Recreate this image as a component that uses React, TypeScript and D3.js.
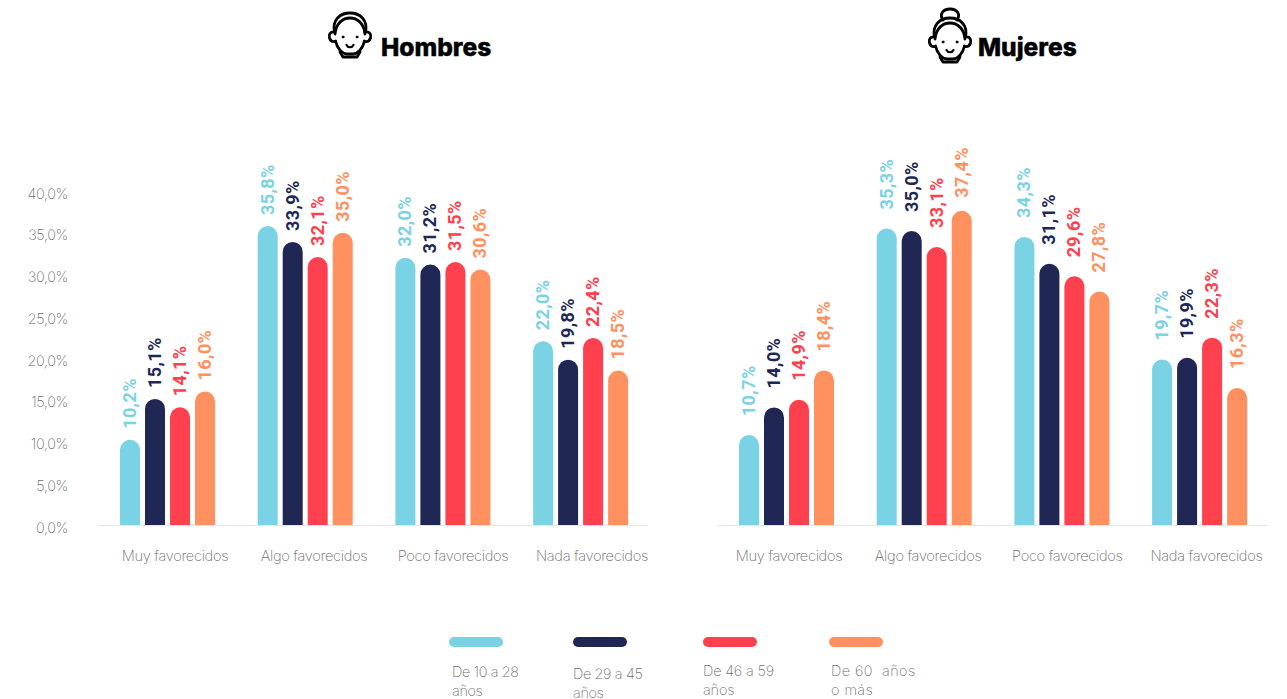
import React from "react";
import * as d3 from "d3";

const categories = ["Muy favorecidos", "Algo favorecidos", "Poco favorecidos", "Nada favorecidos"];
const seriesNames = ["De 10 a 28 años", "De 29 a 45 años", "De 46 a 59 años", "De 60 años o más"];
const colors = ["#7AD2E5", "#202754", "#FF404E", "#FF9160"];
const hombres = [
  [10.2, 15.1, 14.1, 16.0],
  [35.8, 33.9, 32.1, 35.0],
  [32.0, 31.2, 31.5, 30.6],
  [22.0, 19.8, 22.4, 18.5],
];
const mujeres = [
  [10.7, 14.0, 14.9, 18.4],
  [35.3, 35.0, 33.1, 37.4],
  [34.3, 31.1, 29.6, 27.8],
  [19.7, 19.9, 22.3, 16.3],
];
const yTicks = [0, 5, 10, 15, 20, 25, 30, 35, 40];
const legendLines = [["De 10 a 28", "años"], ["De 29 a 45", "años"], ["De 46 a 59", "años"], ["De 60  años", "o más"]];
const legendX = [449, 573, 703, 829];
const legendTextX = [452, 573, 703, 831];
const legendTextY = [676, 678, 675, 675];
const legendSpacing = [-0.35, -0.35, -0.15, 0.45];

const LIGHT = "Inter, Lato, sans-serif";
const GREY = "#6E6E6E";
const axisY = d3.scaleLinear().domain([0, 40]).range([525, 191]);
const fmt = (v: number) => v.toFixed(1).replace(".", ",") + "%";

function topRounded(x: number, w: number, top: number, base: number) {
  const r = w / 2;
  const p = d3.path();
  p.moveTo(x, base);
  p.lineTo(x, top + r);
  p.arc(x + r, top + r, r, Math.PI, 0);
  p.lineTo(x + w, base);
  p.closePath();
  return p.toString();
}

function Panel({ data, x0, x1, topY, labelX0, labelX1, gap }: { data: number[][]; x0: number; x1: number; topY: number; labelX0: number; labelX1: number; gap: (v: number) => number }) {
  const y = d3.scaleLinear().domain([0, 40]).range([525, topY]);
  const outer = d3.scaleBand().domain(categories).range([x0, x1]).paddingInner(0.31).paddingOuter(0.155);
  const inner = d3.scaleBand().domain(seriesNames).range([0, outer.bandwidth()]).paddingInner(0.2).paddingOuter(0);
  const labelScale = d3.scalePoint().domain(categories).range([labelX0, labelX1]);
  return (
    <g>
      <line x1={x0} x2={x1 - 1} y1={y(0) + 0.5} y2={y(0) + 0.5} stroke="#E6E6E6" strokeWidth={1.2} />
      {categories.map((c, i) => (
        <g key={c}>
          <text x={labelScale(c)} y={561} textAnchor="middle" fontFamily={LIGHT} fontWeight={200} fontSize={14.6} letterSpacing={-0.3} fill={GREY}>{c}</text>
          {seriesNames.map((s, j) => {
            const bx = outer(c)! + inner(s)!;
            const top = y(data[i][j]);
            return (
              <g key={s}>
                <path d={topRounded(bx, inner.bandwidth(), top, y(0))} fill={colors[j]} />
                <text
                  transform={`translate(${bx + inner.bandwidth() / 2 + 6},${top - gap(data[i][j])}) rotate(-90)`}
                  fontFamily="Roboto, sans-serif" fontWeight={700} fontSize={18} letterSpacing={0.4} fill={colors[j]}
                >{fmt(data[i][j])}</text>
              </g>
            );
          })}
        </g>
      ))}
    </g>
  );
}

function Face({ cx, cy, bun }: { cx: number; cy: number; bun?: boolean }) {
  return (
    <g transform={`translate(${cx},${cy})`} fill="none" stroke="#000" strokeWidth={2.8} strokeLinecap="round" strokeLinejoin="round">
      {bun && <path d="M-7,-20 C-11,-26 -7,-31 0,-31 C7,-31 11,-26 7,-20" fill="#fff" />}
      <path d="M-15.5,-3 C-18,-15 -10,-22 0,-22 C10,-22 18,-15 15.5,-3" />
      <path d="M-15,-1 C-14,-12 -7,-17 0,-17 C7,-17 14,-12 15,-1" />
      <path d="M-15,-3 C-20,-4 -21.5,0 -20.5,3 C-19.5,6 -17,7 -14.5,6.5" />
      <path d="M15,-3 C20,-4 21.5,0 20.5,3 C19.5,6 17,7 14.5,6.5" />
      <path d="M-14.5,6 C-13,13 -8,19 -3,19 L3,19 C8,19 13,13 14.5,6" />
      <path d="M-10,17 L-7,22 L7,22 L10,17" />
      <circle cx={-7} cy={2} r={1} fill="#000" strokeWidth={1} />
      <circle cx={7} cy={2} r={1} fill="#000" strokeWidth={1} />
      <path d="M-3.5,10 C-2,13 2,13 3.5,10" strokeWidth={2.2} />
    </g>
  );
}

export default function App() {
  return (
    <svg width={1287} height={699} style={{ position: "absolute", left: 0, top: 0, background: "#fff" }}>
      <Face cx={350} cy={35} />
      <text x={381} y={55.5} fontFamily="Inter, sans-serif" fontWeight={800} fontSize={24.5} stroke="#000" strokeWidth={0.4} fill="#000">Hombres</text>
      <Face cx={950} cy={40} bun />
      <text x={978} y={55.5} fontFamily="Inter, sans-serif" fontWeight={800} fontSize={24.5} stroke="#000" strokeWidth={0.4} fill="#000">Mujeres</text>

      {yTicks.map((t) => (
        <text key={t} x={68} y={axisY(t) + 7.5} textAnchor="end" fontFamily={LIGHT} fontWeight={200} fontSize={14.4} letterSpacing={-0.35} fill={GREY}>{fmt(t)}</text>
      ))}

      <Panel data={hombres} x0={98.65} x1={649.45} topY={191} labelX0={175} labelX1={592} gap={() => 11} />
      <Panel data={mujeres} x0={717.65} x1={1268.45} topY={189} labelX0={789} labelX1={1206.5} gap={(v) => (v === 37.4 ? 13 : 19)} />

      {seriesNames.map((s, i) => (
        <g key={s}>
          <rect x={legendX[i]} y={637} width={54} height={10} rx={5} fill={colors[i]} />
          {legendLines[i].map((l, k) => (
            <text key={k} x={legendTextX[i]} y={legendTextY[i] + 1 + k * 18.5} fontFamily={LIGHT} fontWeight={200} fontSize={14.4} letterSpacing={legendSpacing[i]} fill={GREY} xmlSpace="preserve">{l}</text>
          ))}
        </g>
      ))}
    </svg>
  );
}
